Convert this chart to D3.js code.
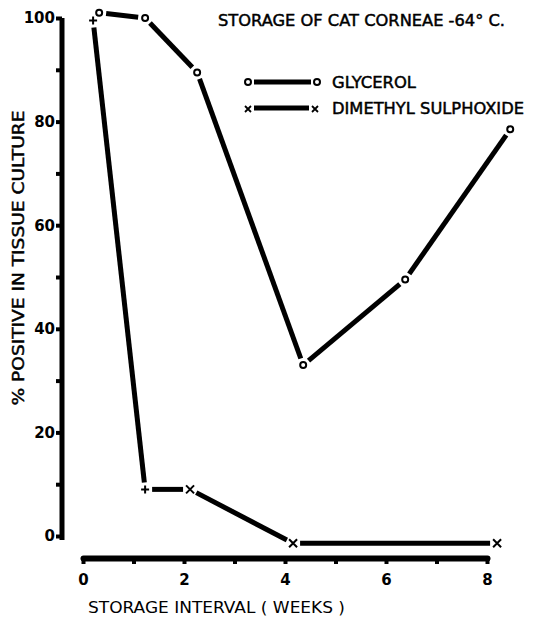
<!DOCTYPE html>
<html>
<head>
<meta charset="utf-8">
<script src="https://cdn.jsdelivr.net/npm/d3@7.9.0/dist/d3.min.js"></script>
<style>
  body { margin: 0; background: #fff; }
  svg { font-family: "DejaVu Sans", sans-serif; }
  .heavy { stroke: #000; stroke-width: 0.45px; }
</style>
</head>
<body>
<svg id="chart" width="534" height="620"></svg>
<script>
// Chart data
const glycerolWeeks = [0.32, 1.23, 2.26, 4.36, 6.38, 8.46];
const glycerolPct = [101, 100, 89.5, 33, 49.5, 78.5];

const dmsoWeeks = [0.2, 1.23, 2.12, 4.16, 8.2];
const dmsoPct = [99.5, 9, 9, -1.4, -1.4];
const dmsoMarks = ["+", "+", "x", "x", "x"];

const yTicks = [0, 10, 20, 30, 40, 50, 60, 70, 80, 90, 100];
const xTicks = [0, 1, 2, 3, 4, 5, 6, 7, 8];

const svg = d3.select("#chart");

// Scales
const x = d3.scaleLinear().domain([0, 8]).range([83, 487]);
const y = d3.scaleLinear().domain([0, 100]).range([536, 18]);

// Y axis
const yAxis = svg.append("g")
  .attr("transform", "translate(62,0)")
  .call(d3.axisLeft(y).tickValues(yTicks).tickSize(6).tickSizeOuter(0)
    .tickFormat(d => d % 20 === 0 ? d : ""));
yAxis.select(".domain").attr("stroke-width", 5).attr("stroke", "#000")
  .attr("d", `M0,${y(100)}V${y(0) + 4}`);
yAxis.selectAll(".tick line").attr("stroke-width", 4).attr("stroke", "#000");
yAxis.selectAll(".tick text")
  .attr("x", -7)
  .style("font-size", "15px").style("font-weight", "bold")
  .style("font-family", "'DejaVu Sans', sans-serif");

// X axis (drawn detached below the plot)
const xAxis = svg.append("g")
  .attr("transform", "translate(0,558)")
  .call(d3.axisBottom(x).tickValues(xTicks).tickSize(6).tickSizeOuter(0)
    .tickFormat(d => d % 2 === 0 ? d : ""));
xAxis.select(".domain").attr("stroke-width", 6).attr("stroke", "#000")
  .attr("stroke-linecap", "round");
xAxis.selectAll(".tick text")
  .attr("y", 16)
  .style("font-size", "15px").style("font-weight", "bold")
  .style("font-family", "'DejaVu Sans', sans-serif");
xAxis.selectAll(".tick line").attr("stroke-width", 4).attr("stroke", "#000");

// Axis titles
svg.append("text")
  .attr("x", 88).attr("y", 613)
  .style("font-size", "16px")
  .attr("textLength", 257).attr("lengthAdjust", "spacingAndGlyphs")
  .text("STORAGE INTERVAL ( WEEKS )");

svg.append("text")
  .attr("class", "heavy")
  .attr("transform", "translate(24,258) rotate(-90)")
  .attr("text-anchor", "middle")
  .style("font-size", "15px")
  .attr("textLength", 295).attr("lengthAdjust", "spacingAndGlyphs")
  .text("% POSITIVE IN TISSUE CULTURE");

// Title
svg.append("text")
  .attr("class", "heavy")
  .attr("x", 218).attr("y", 26)
  .style("font-size", "15px")
  .attr("textLength", 287).attr("lengthAdjust", "spacingAndGlyphs")
  .text("STORAGE OF CAT CORNEAE -64° C.");

// Segments with small gaps at the markers, like the hand-drawn original
function drawSeries(weeks, pct, gap) {
  const pts = weeks.map((w, i) => [x(w), y(pct[i])]);
  d3.pairs(pts).forEach(([a, b]) => {
    const dx = b[0] - a[0], dy = b[1] - a[1];
    const len = Math.hypot(dx, dy);
    const ux = dx / len, uy = dy / len;
    svg.append("line")
      .attr("x1", a[0] + ux * gap).attr("y1", a[1] + uy * gap)
      .attr("x2", b[0] - ux * gap).attr("y2", b[1] - uy * gap)
      .attr("stroke", "#000").attr("stroke-width", 5);
  });
  return pts;
}

const gPts = drawSeries(glycerolWeeks, glycerolPct, 7);
svg.selectAll(".gmark").data(gPts).join("circle")
  .attr("class", "gmark")
  .attr("cx", d => d[0]).attr("cy", d => d[1]).attr("r", 3)
  .attr("fill", "#fff").attr("stroke", "#000").attr("stroke-width", 2);

const dPts = drawSeries(dmsoWeeks, dmsoPct, 7);
function cross(g, cx, cy, kind, s) {
  if (kind === "+") {
    g.append("path").attr("d", `M${cx - s},${cy}H${cx + s}M${cx},${cy - s}V${cy + s}`);
  } else {
    g.append("path").attr("d", `M${cx - s},${cy - s}L${cx + s},${cy + s}M${cx - s},${cy + s}L${cx + s},${cy - s}`);
  }
}
const markG = svg.append("g").attr("stroke", "#000").attr("stroke-width", 2).attr("fill", "none");
dPts.forEach((p, i) => cross(markG, p[0], p[1], dmsoMarks[i], 4));

// Legend
const legend = svg.append("g");
legend.append("line").attr("x1", 254).attr("x2", 311).attr("y1", 82).attr("y2", 82)
  .attr("stroke", "#000").attr("stroke-width", 5);
[248, 317].forEach(cx => legend.append("circle").attr("cx", cx).attr("cy", 82).attr("r", 3)
  .attr("fill", "#fff").attr("stroke", "#000").attr("stroke-width", 2));
legend.append("line").attr("x1", 254).attr("x2", 309).attr("y1", 108).attr("y2", 108)
  .attr("stroke", "#000").attr("stroke-width", 5);
const legX = legend.append("g").attr("stroke", "#000").attr("stroke-width", 1.8);
[248, 315].forEach(cx => cross(legX, cx, 109, "x", 3));
legend.append("text").attr("class", "heavy").attr("x", 332).attr("y", 88)
  .style("font-size", "15px")
  .attr("textLength", 84).attr("lengthAdjust", "spacingAndGlyphs").text("GLYCEROL");
legend.append("text").attr("class", "heavy").attr("x", 332).attr("y", 114)
  .style("font-size", "15px")
  .attr("textLength", 192).attr("lengthAdjust", "spacingAndGlyphs").text("DIMETHYL SULPHOXIDE");
</script>
</body>
</html>
